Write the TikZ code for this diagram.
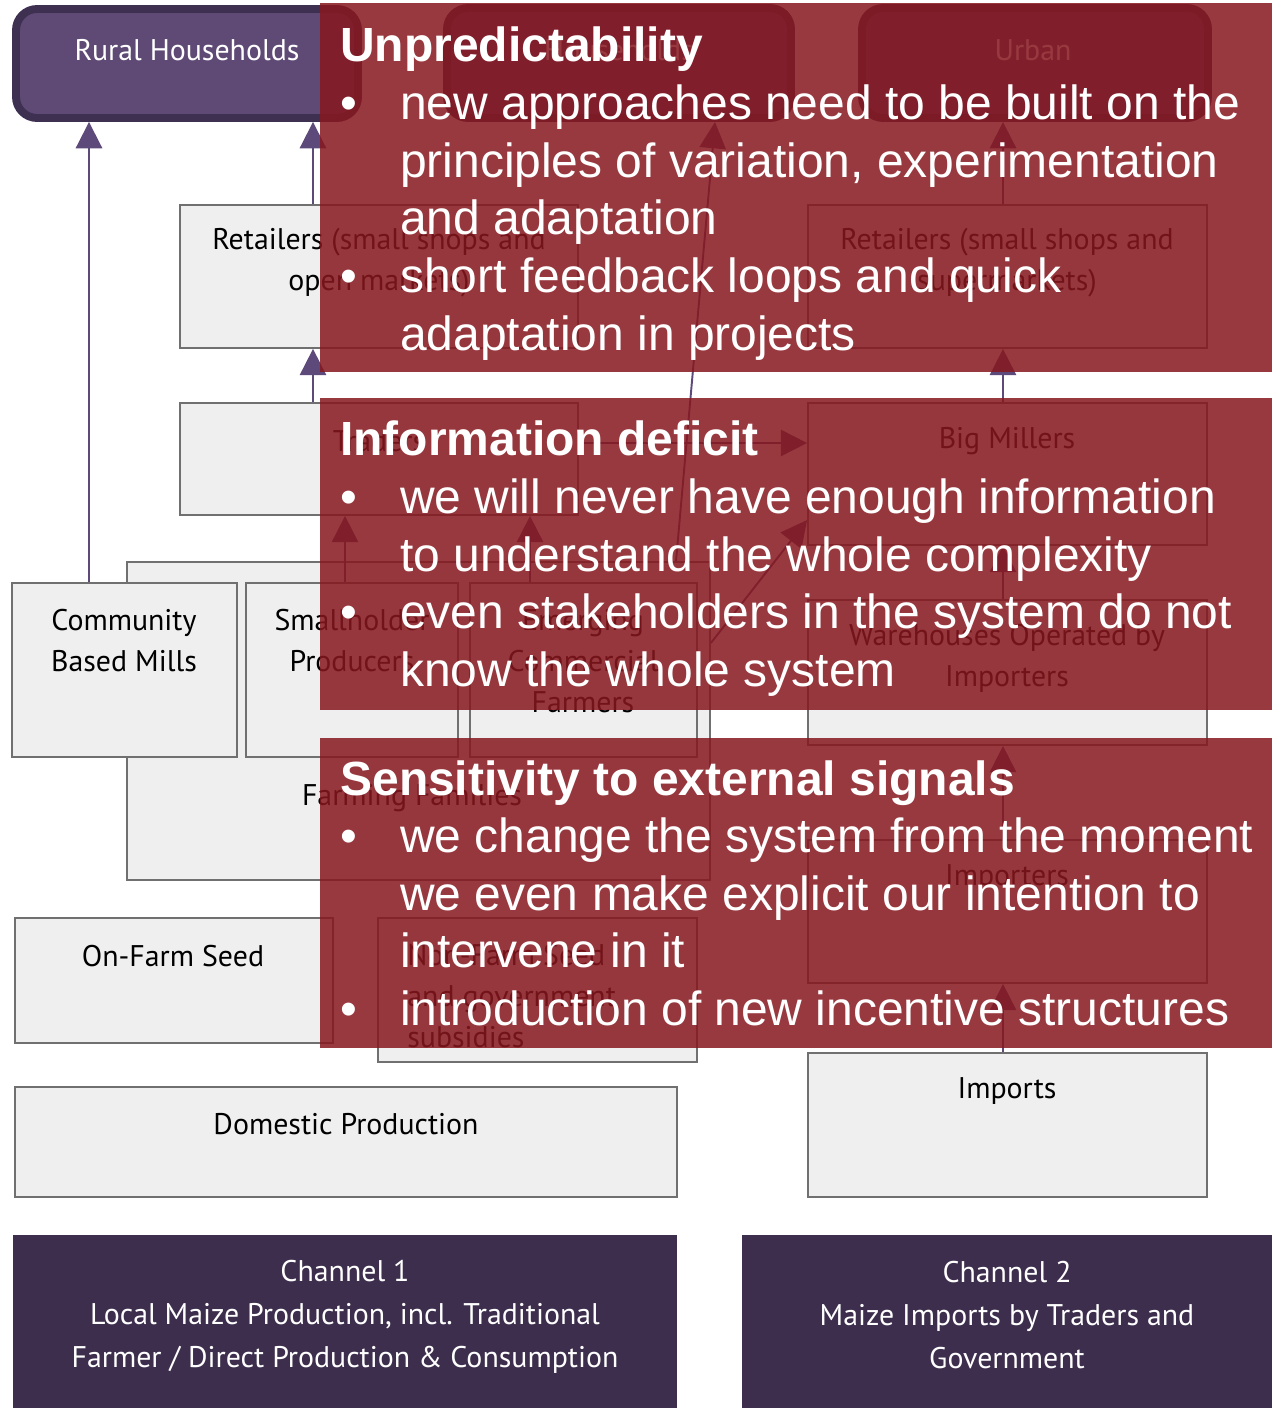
\documentclass[tikz,border=0pt]{standalone}
\usepackage{fontspec}
\setmainfont{PT Sans}
\newfontfamily\panelfont{Liberation Sans}
\usetikzlibrary{arrows.meta,fit}

\definecolor{hhpurple}{RGB}{95,74,118}
\definecolor{hhborder}{RGB}{62,48,80}
\definecolor{chanpurple}{RGB}{61,46,77}
\definecolor{cellgray}{RGB}{239,239,239}
\definecolor{celledge}{RGB}{112,112,112}
\definecolor{flowpurple}{RGB}{94,74,122}
\definecolor{panelred}{RGB}{135,23,30}

\begin{document}
\begin{tikzpicture}[x=0.02cm,y=-0.02cm,
    hh/.style={draw=hhborder,line width=4.5pt,fill=hhpurple,rounded corners=12pt,inner sep=0pt},
    cell/.style={draw=celledge,line width=1pt,fill=cellgray,inner sep=0pt},
    chan/.style={fill=chanpurple,inner sep=0pt},
    txt/.style={font=\fontsize{17}{23.3}\selectfont,align=center,inner sep=0pt},
    whitetxt/.style={txt,text=white},
    flow/.style={draw=flowpurple,line width=1.1pt,-{Triangle[width=15pt,length=15pt]}},
    panel/.style={fill=panelred,fill opacity=0.85,inner sep=0pt},
    paneltxt/.style={text=white,anchor=base west,inner sep=0pt,
      font=\panelfont\fontsize{27.3}{32.8}\selectfont}]
    \path[use as bounding box,fill=white] (0,0) rectangle (1272,1408);

    % households
    \node[hh,fit={(16,9) (358,118)}] (rural) {};
    \node[hh,fit={(447,8) (791,118)}] (midhh) {};
    \node[hh,fit={(862,8) (1208,118)}] (urban) {};
    \node[whitetxt] (ruraltxt) at (187,50) {Rural Households};
    \node[whitetxt] (midtxt) at (619,50) {Households};
    \node[whitetxt] (urbantxt) at (1033,50) {Urban};

    % channel 1 boxes
    \node[cell,fit={(180,205) (578,348)}] (retail) {};
    \node[cell,fit={(180,403) (578,515)}] (traders) {};
    \node[cell,fit={(127,562) (710,880)}] (famfam) {};
    \node[cell,fit={(12,583) (237,757)}] (cbm) {};
    \node[cell,fit={(246,583) (458,757)}] (small) {};
    \node[cell,fit={(470,583) (697,757)}] (emerg) {};
    \node[cell,fit={(15,918) (333,1043)}] (seed) {};
    \node[cell,fit={(378,918) (697,1062)}] (subs) {};
    \node[cell,fit={(15,1087) (677,1197)}] (domestic) {};
    \node[txt] (retailtxt) at (379,263) {Retailers (small shops and\\open markets)};
    \node[txt] (traderstxt) at (379,441) {Traders};
    \node[txt] (famtxt) at (412,798) {Farming Families};
    \node[txt] (cbmtxt) at (124,641) {Community\\Based Mills};
    \node[txt] (smalltxt) at (352,641) {Smallholder\\Producers};
    \node[txt] (emergtxt) at (583,661) {Emerging\\Commercial\\Farmers};
    \node[txt] (seedtxt) at (173,956) {On-Farm Seed};
    \node[txt,align=left,anchor=west] (substxt) at (407,996) {Non-Farm Seed\\and government\\subsidies};
    \node[txt] (domtxt) at (346,1124) {Domestic Production};

    % channel 2 boxes
    \node[cell,fit={(808,205) (1207,348)}] (retail2) {};
    \node[cell,fit={(808,403) (1207,545)}] (millers) {};
    \node[cell,fit={(808,600) (1207,745)}] (wareh) {};
    \node[cell,fit={(808,840) (1207,983)}] (importers) {};
    \node[cell,fit={(808,1053) (1207,1197)}] (imports) {};
    \node[txt] (retail2txt) at (1007,263) {Retailers (small shops and\\supermarkets)};
    \node[txt] (millerstxt) at (1007,441) {Big Millers};
    \node[txt] (warehtxt) at (1007,658) {Warehouses Operated by\\Importers};
    \node[txt] (importerstxt) at (1007,878) {Importers};
    \node[txt] (importstxt) at (1007,1091) {Imports};

    % channels
    \node[chan,fit={(13,1235) (677,1408)}] (chone) {};
    \node[chan,fit={(742,1235) (1272,1408)}] (chtwo) {};
    \node[whitetxt,font=\fontsize{17}{24.5}\selectfont] (chonetxt) at (345,1317)
      {Channel 1\\Local Maize Production, incl. Traditional\\Farmer / Direct Production \& Consumption};
    \node[whitetxt,font=\fontsize{17}{24.5}\selectfont] (chtwotxt) at (1007,1315)
      {Channel 2\\Maize Imports by Traders and\\Government};

    % flows
    \draw[flow] (cbm.north -| 89,0) -- (rural.south -| 89,0);
    \draw[flow] (retail.north -| 313,0) -- (rural.south -| 313,0);
    \draw[flow] (traders.north -| 313,0) -- (retail.south -| 313,0);
    \draw[flow] (small.north -| 345,0) -- (traders.south -| 345,0);
    \draw[flow] (emerg.north -| 530,0) -- (traders.south -| 530,0);
    \draw[flow] (traders.east |- 0,443) -- (millers.west |- 0,443);
    \draw[flow] (famfam.east |- 0,643) -- (millers.west |- 0,520);
    \draw[flow] (famfam.north -| 676,0) -- (midhh.south -| 715,0);
    \draw[flow] (retail2.north -| 1003,0) -- (urban.south -| 1003,0);
    \draw[flow] (millers.north -| 1003,0) -- (retail2.south -| 1003,0);
    \draw[flow] (wareh.north -| 1003,0) -- (millers.south -| 1003,0);
    \draw[flow] (importers.north -| 1003,0) -- (wareh.south -| 1003,0);
    \draw[flow] (imports.north -| 1003,0) -- (importers.south -| 1003,0);

    % overlay panels
    \node[panel,fit={(320,3) (1272,372)}] (pana) {};
    \node[panel,fit={(320,398) (1272,710)}] (panb) {};
    \node[panel,fit={(320,738) (1272,1048)}] (panc) {};
    \node[paneltxt] (panatxt) at (340,62) {\begin{tabular}[t]{@{}p{34pt}@{}l@{}}
      \multicolumn{2}{@{}l@{}}{\bfseries Unpredictability}\\
      \textbullet & new approaches need to be built on the\\
       & principles of variation, experimentation\\
       & and adaptation\\
      \textbullet & short feedback loops and quick\\
       & adaptation in projects
    \end{tabular}};
    \node[paneltxt] (panbtxt) at (340,456) {\begin{tabular}[t]{@{}p{34pt}@{}l@{}}
      \multicolumn{2}{@{}l@{}}{\bfseries Information deficit}\\
      \textbullet & we will never have enough information\\
       & to understand the whole complexity\\
      \textbullet & even stakeholders in the system do not\\
       & know the whole system
    \end{tabular}};
    \node[paneltxt] (panctxt) at (340,795) {\begin{tabular}[t]{@{}p{34pt}@{}l@{}}
      \multicolumn{2}{@{}l@{}}{\bfseries Sensitivity to external signals}\\
      \textbullet & we change the system from the moment\\
       & we even make explicit our intention to\\
       & intervene in it\\
      \textbullet & introduction of new incentive structures
    \end{tabular}};
\end{tikzpicture}
\end{document}
